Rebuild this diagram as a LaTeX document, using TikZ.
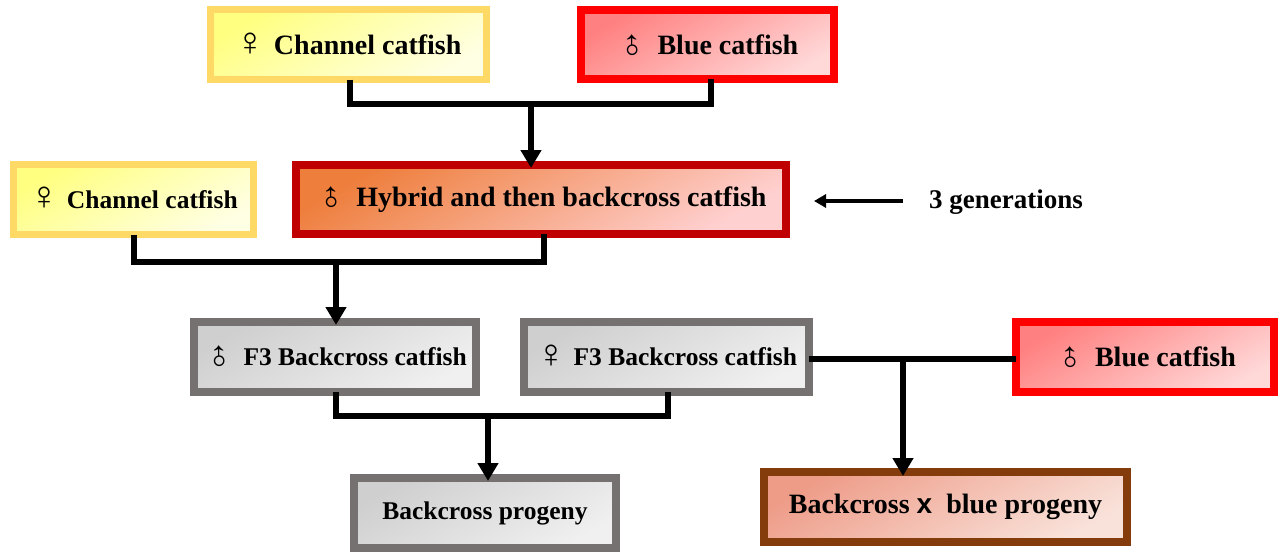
\documentclass[tikz,border=0pt]{standalone}
\usepackage{fontspec}
\setmainfont{Liberation Serif}
\newfontfamily\xsans{Liberation Sans}
\usetikzlibrary{arrows.meta}
\definecolor{ybord}{HTML}{FFD966}
\definecolor{yfa}{HTML}{FFFF80}
\definecolor{yfb}{HTML}{FFFFE4}
\definecolor{rbord}{HTML}{FF0000}
\definecolor{rfa}{HTML}{FF8080}
\definecolor{rfb}{HTML}{FFD8D8}
\definecolor{dbord}{HTML}{C00000}
\definecolor{dfa}{HTML}{EE7E3C}
\definecolor{dfb}{HTML}{FFD0D0}
\definecolor{gbord}{HTML}{767171}
\definecolor{gfa}{HTML}{CFCFCF}
\definecolor{gfb}{HTML}{F0F0F0}
\definecolor{bbord}{HTML}{843C0C}
\definecolor{bfa}{HTML}{EE9C88}
\definecolor{bfb}{HTML}{F9E2DA}
\tikzset{
  box/.style={inner sep=0pt, outer sep=0pt, line width=8pt, align=center,
    font=\bfseries\fontsize{28}{32}\selectfont},
  ybox/.style={box, line width=7pt, draw=ybord, top color=yfa, bottom color=yfb, shading angle=30},
  rbox/.style={box, draw=rbord, top color=rfa, bottom color=rfb, shading angle=30},
  dbox/.style={box, draw=dbord, top color=dfa, bottom color=dfb, shading angle=30},
  gbox/.style={box, draw=gbord, top color=gfa, bottom color=gfb, shading angle=30,
    font=\bfseries\fontsize{25.5}{30}\selectfont},
  bbox/.style={box, draw=bbord, top color=bfa, bottom color=bfb, shading angle=30},
  conn/.style={line width=6pt, draw=black},
  arr/.style={line width=6pt, draw=black, -{Triangle[width=20pt,length=18pt]}},
}
\newcommand{\fem}{{\mdseries\fontsize{40}{40}\selectfont\raisebox{-0.04em}[0pt][0pt]{\char"2640}}\hspace{0.3em}}
\newcommand{\mal}{{\mdseries\fontsize{38}{38}\selectfont\raisebox{-0.29em}[0pt][0pt]{\rotatebox{45}{\char"2642}}}\hspace{0.2em}}
\begin{document}
\begin{tikzpicture}[x=1pt,y=-1pt]
\useasboundingbox (0,0) rectangle (1280,552);
\node[ybox, minimum width=276pt, minimum height=70pt] (b1) at (348.5,44.5) {\fem Channel catfish};
\node[rbox, minimum width=253pt, minimum height=69pt] (b2) at (707.5,44.5) {\mal Blue catfish};
\node[ybox, minimum width=240pt, minimum height=70pt, font=\bfseries\fontsize{25.5}{30}\selectfont] (b3) at (133.5,199.5) {\fem Channel catfish};
\node[dbox, minimum width=490pt, minimum height=69pt] (b4) at (541,199.5) {\mal Hybrid and then backcross catfish};
\node[gbox, minimum width=282pt, minimum height=70pt] (b5) at (335,357) {\mal F3 Backcross catfish};
\node[gbox, minimum width=285pt, minimum height=70pt] (b6) at (666.5,357) {\fem F3 Backcross catfish};
\node[rbox, minimum width=258pt, minimum height=70pt] (b7) at (1145,357) {\mal Blue catfish};
\node[gbox, minimum width=262pt, minimum height=70pt] (b8) at (485,513) {Backcross progeny};
\node[bbox, minimum width=363pt, minimum height=70pt] (b9) at (945.5,507) {Backcross {\xsans x}\hspace{0.25em} blue progeny};
\node[inner sep=0pt, anchor=west, font=\bfseries\fontsize{27}{30}\selectfont] (gen) at (929,202) {3 generations};
% connectors
\coordinate (j1) at (531,104);
\coordinate (j2) at (336,262);
\coordinate (j3) at (488,416);
\coordinate (j4) at (903,362);
\coordinate (g0) at (903,201);
\draw[conn] ([xshift=1.5pt]b1.south) |- (j1) -| ([xshift=3pt]b2.south);
\draw[arr] (j1) -- ([yshift=-3pt]j1 |- b4.north);
\draw[conn] (b3.south) |- (j2) -| ([xshift=3pt]b4.south);
\draw[arr] (j2) -- ([yshift=-3pt]j2 |- b5.north);
\draw[conn] ([xshift=1pt]b5.south) |- (j3) -| ([xshift=1.5pt]b6.south);
\draw[arr] (j3) -- ([yshift=-3pt]j3 |- b8.north);
\draw[conn] ([yshift=-2pt]b6.east) -- ([yshift=-2pt]b7.west);
\draw[arr] (j4) -- ([yshift=-4pt]j4 |- b9.north);
\draw[line width=4pt, -{Triangle[width=13pt,length=12pt]}] (g0) -- ([xshift=28pt]b4.east |- g0);
\end{tikzpicture}
\end{document}
